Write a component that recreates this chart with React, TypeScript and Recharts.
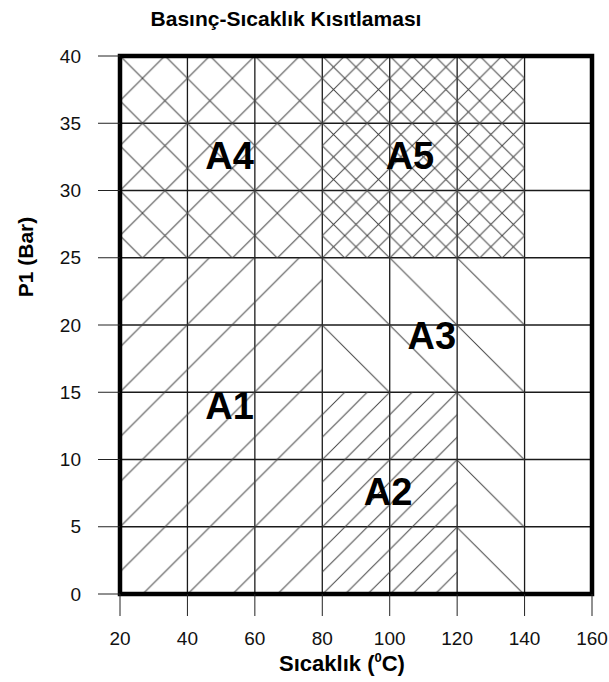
import React from "react";
import {
  ScatterChart,
  Scatter,
  XAxis,
  YAxis,
  CartesianGrid,
  ReferenceArea,
} from "recharts";

// axis ticks
const tempTicks = [20, 40, 60, 80, 100, 120, 140, 160];
const pressureTicks = [0, 5, 10, 15, 20, 25, 30, 35, 40];

// hatched regions (temperature °C, pressure bar)
const regions = [
  { id: "a1", t1: 20, t2: 80, p1: 0, p2: 25 },
  { id: "a2", t1: 80, t2: 120, p1: 0, p2: 15 },
  { id: "a3", t1: 80, t2: 140, p1: 15, p2: 25 },
  { id: "a3", t1: 120, t2: 140, p1: 0, p2: 15 },
  { id: "a4", t1: 20, t2: 80, p1: 25, p2: 40 },
  { id: "a5", t1: 80, t2: 140, p1: 25, p2: 40 },
];

// region names and where they sit
const regionLabels = [
  { name: "A1", t: 52.5, p: 14 },
  { name: "A2", t: 99.5, p: 7.6 },
  { name: "A3", t: 112.5, p: 19.2 },
  { name: "A4", t: 52.5, p: 32.6 },
  { name: "A5", t: 106, p: 32.6 },
];

const W = 609;
const H = 682;
const margin = { top: 56, right: 17, bottom: 48, left: 60 };
const Y_W = 60;
const X_H = 40;
const font = "'Liberation Sans', Arial, sans-serif";

// pixel helpers, only used to line the hatch patterns up with the grid
const plotL = margin.left + Y_W;
const plotT = margin.top;
const plotW = W - plotL - margin.right;
const plotH = H - plotT - margin.bottom - X_H;
const px = (t: number) => plotL + ((t - 20) / 140) * plotW;
const py = (p: number) => plotT + ((40 - p) / 40) * plotH;
const cell = px(40) - px(20);

const hatch = "#444";

function Slash({ id, s, x, y }: { id: string; s: number; x: number; y: number }) {
  return (
    <pattern id={id} patternUnits="userSpaceOnUse" width={s} height={s} x={x} y={y}>
      <path
        d={`M-1,1 L1,-1 M0,${s} L${s},0 M${s - 1},${s + 1} L${s + 1},${s - 1}`}
        stroke={hatch}
        strokeWidth={1}
      />
    </pattern>
  );
}

function Back({ id, s, x, y }: { id: string; s: number; x: number; y: number }) {
  return (
    <pattern id={id} patternUnits="userSpaceOnUse" width={s} height={s} x={x} y={y}>
      <path
        d={`M-1,-1 L${s + 1},${s + 1} M${s - 1},-1 L${s + 1},1 M-1,${s - 1} L1,${s + 1}`}
        stroke={hatch}
        strokeWidth={1}
      />
    </pattern>
  );
}

function Cross({ id, s, x, y }: { id: string; s: number; x: number; y: number }) {
  return (
    <pattern id={id} patternUnits="userSpaceOnUse" width={s} height={s} x={x} y={y}>
      <path
        d={`M-1,-1 L${s + 1},${s + 1} M-1,${s + 1} L${s + 1},-1`}
        stroke={hatch}
        strokeWidth={1}
      />
    </pattern>
  );
}

const LabelShape = (props: any) => (
  <text
    x={props.cx}
    y={props.cy}
    textAnchor="middle"
    dominantBaseline="central"
    fontFamily={font}
    fontWeight="bold"
    fontSize={38}
    fill="#000"
  >
    {props.payload.name}
  </text>
);

export default function App() {
  return (
    <div style={{ position: "absolute", left: 0, top: 0, width: W, height: H, background: "#fff" }}>
      <svg width={0} height={0} style={{ position: "absolute" }}>
        <defs>
          <Slash id="a1" s={(cell * 2) / 3} x={px(40)} y={py(10)} />
          <Slash id="a2" s={cell / 3} x={px(120)} y={py(15)} />
          <Back id="a3" s={cell} x={px(80)} y={py(25)} />
          <Cross id="a4" s={(cell * 2) / 3} x={px(40)} y={py(35)} />
          <Cross id="a5" s={cell / 3} x={px(80)} y={py(35)} />
        </defs>
      </svg>

      <ScatterChart width={W} height={H} margin={margin}>
        <XAxis
          type="number"
          dataKey="t"
          domain={[20, 160]}
          ticks={tempTicks}
          height={X_H}
          axisLine={false}
          tickSize={22}
          tickMargin={16}
          tickLine={{ stroke: "#222" }}
          tick={{ fill: "#111", fontSize: 19, fontFamily: font }}
        />
        <YAxis
          type="number"
          dataKey="p"
          domain={[0, 40]}
          ticks={pressureTicks}
          width={Y_W}
          axisLine={false}
          tickSize={22}
          tickMargin={17}
          tickLine={{ stroke: "#222" }}
          tick={{ fill: "#111", fontSize: 19, fontFamily: font }}
        />
        {regions.map((r, i) => (
          <ReferenceArea
            key={i}
            x1={r.t1}
            x2={r.t2}
            y1={r.p1}
            y2={r.p2}
            fill={`url(#${r.id})`}
            fillOpacity={1}
            stroke="none"
          />
        ))}
        <CartesianGrid stroke="#1a1a1a" strokeWidth={1.3} />
        <ReferenceArea
          x1={20}
          x2={160}
          y1={0}
          y2={40}
          fill="none"
          stroke="#000"
          strokeWidth={4.5}
        />
        <Scatter data={regionLabels} shape={LabelShape} isAnimationActive={false} />
      </ScatterChart>

      <svg
        width={W}
        height={H}
        style={{ position: "absolute", left: 0, top: 0, pointerEvents: "none" }}
      >
        <text x={286} y={26} textAnchor="middle" fontFamily={font} fontWeight="bold" fontSize={21} fill="#000">
          Basınç-Sıcaklık Kısıtlaması
        </text>
        <text x={342} y={671} textAnchor="middle" fontFamily={font} fontWeight="bold" fontSize={22} fill="#000">
          Sıcaklık (
          <tspan fontSize={13} dy={-9}>0</tspan>
          <tspan dy={9}>C)</tspan>
        </text>
        <text
          x={25}
          y={257}
          transform="rotate(-90 25 257)"
          textAnchor="middle"
          dominantBaseline="central"
          fontFamily={font}
          fontWeight="bold"
          fontSize={21}
          fill="#000"
        >
          P1 (Bar)
        </text>
      </svg>
    </div>
  );
}
